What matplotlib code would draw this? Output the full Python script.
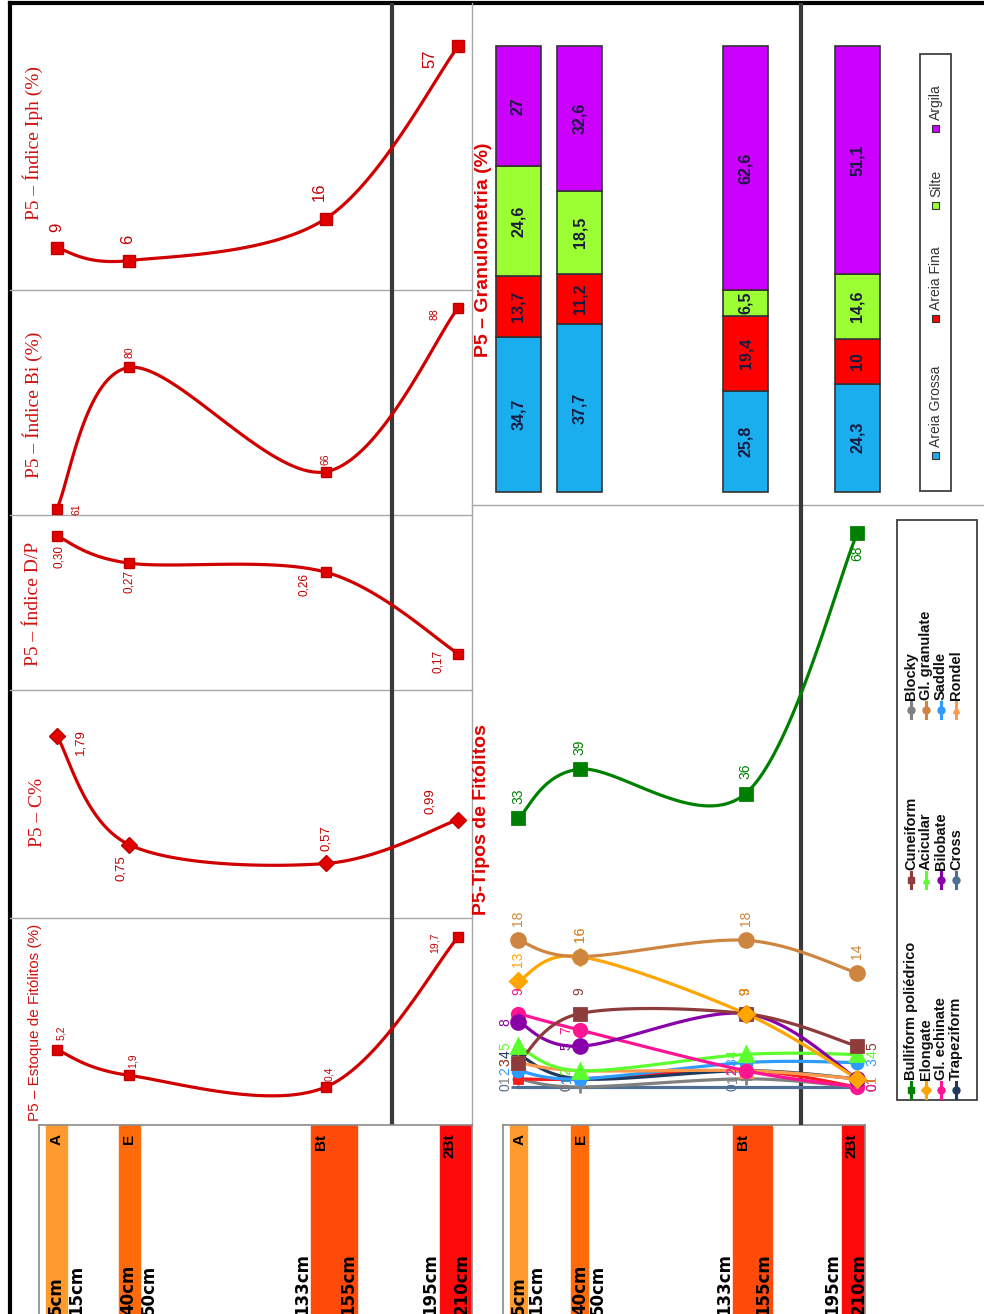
import numpy as np
import matplotlib
matplotlib.use('Agg')
import matplotlib.pyplot as plt
from matplotlib.patches import Rectangle

# ---------------- data ----------------
depths = [10, 45, 140, 204]              # sample depths (cm)
iph = [9, 6, 16, 57]
bi = [61, 80, 66, 88]
dp = [0.30, 0.27, 0.26, 0.17]
carbon = [1.79, 0.75, 0.57, 0.99]
estoque = [5.2, 1.9, 0.4, 19.7]

gran_classes = ['Areia Grossa', 'Areia Fina', 'Silte', 'Argila']
areia_grossa = [34.7, 37.7, 25.8, 24.3]
areia_fina = [13.7, 11.2, 19.4, 10]
silte = [24.6, 18.5, 6.5, 14.6]
argila = [27, 32.6, 62.6, 51.1]

horizons = ['A', 'E', 'Bt', '2Bt']
hz_top = [5, 40, 133, 195]
hz_bottom = [15, 50, 155, 210]
boundary_depth = 172

tipos_names = ['Bulliform poliédrico', 'Elongate', 'Gl. echinate', 'Trapeziform',
               'Cuneiform', 'Acicular', 'Bilobate', 'Cross',
               'Blocky', 'Gl. granulate', 'Saddle', 'Rondel']
bulliform = [33, 39, 36, 68]
elongate = [13, 16, 9, 1]
gl_echinate = [9, 7, 2, 0]
trapeziform = [4, 1, 2, 1]
cuneiform = [3, 9, 9, 5]
acicular = [5, 2, 4, 4]
bilobate = [8, 5, 9, 1]
cross = [0, 0, 0, 0]
blocky = [1, 0, 1, 0]
gl_granulate = [18, 16, 18, 14]
saddle = [2, 1, 3, 3]
rondel = [3, 2, 2, 1]
outros = [1, 1, 2, 0]   # unlabeled red series

# ---------------- layout helpers ----------------
W, H = 984, 1314
fig = plt.figure(figsize=(W / 100, H / 100), dpi=100)
fig.patch.set_facecolor('white')

SANS = ['Liberation Sans', 'DejaVu Sans']
SERIF = ['Liberation Serif', 'DejaVu Serif']


def px_axes(x0, y0, x1, y1, z=2):
    ax = fig.add_axes([x0 / W, 1 - y1 / H, (x1 - x0) / W, (y1 - y0) / H], zorder=z)
    ax.set_facecolor('none')
    ax.set_xticks([])
    ax.set_yticks([])
    for s in ax.spines.values():
        s.set_visible(False)
    return ax


# background overlay in pixel coordinates
bg = px_axes(0, 0, W, H, z=0)
bg.set_xlim(0, W)
bg.set_ylim(H, 0)

LA, LB = 36.0, 2.07       # left column depth -> px
RA, RB = 501.0, 1.747     # right column depth -> px


def xlim_for(x0, x1, a, b):
    return ((x0 - a) / b, (x1 - a) / b)


def ylim_for(y0, y1, v_ref, px_ref, ppu):
    return (v_ref - (y1 - px_ref) / ppu, v_ref + (px_ref - y0) / ppu)


def smooth(ax, xs, ys, n=40):
    P = ax.transData.transform(np.column_stack([xs, ys]))
    out = []
    for i in range(len(P) - 1):
        p0 = P[i - 1] if i > 0 else P[i]
        p1, p2 = P[i], P[i + 1]
        p3 = P[i + 2] if i + 2 < len(P) else P[i + 1]
        c1 = p1 + (p2 - p0) / 6.0
        c2 = p2 - (p3 - p1) / 6.0
        t = np.linspace(0, 1, n)[:, None]
        seg = (1 - t) ** 3 * p1 + 3 * (1 - t) ** 2 * t * c1 + 3 * (1 - t) * t ** 2 * c2 + t ** 3 * p2
        out.append(seg if i == 0 else seg[1:])
    pts = ax.transData.inverted().transform(np.vstack(out))
    return pts[:, 0], pts[:, 1]


def fmt(v, nd):
    if nd == 0:
        return str(int(round(v)))
    return f"{v:.{nd}f}".replace('.', ',')


# ---------------- frame & separators ----------------
bg.plot([10, W], [3, 3], color='black', lw=3)
bg.plot([10, 10], [3, H], color='black', lw=3)
for yy in [290, 515, 690, 918]:
    bg.plot([10, 472], [yy, yy], color='#A8A8A8', lw=1)
bg.plot([472, 472], [3, 1125], color='#A8A8A8', lw=1)
bg.plot([472, W], [505, 505], color='#A8A8A8', lw=1)

# ---------------- left column panels ----------------
RED = '#D00000'
panels = [
    dict(title='P5 – Índice Iph (%)', vals=iph, y=(3, 290), cal=(9, 248, 4.2), nd=0,
         marker='s', ms=9, fs=12, tfont=SERIF, tsize=14, tpos=(33, 143),
         offs=[(0, 21), (-2, 21), (-7, 27), (-28, -12)]),
    dict(title='P5 – Índice Bi (%)', vals=bi, y=(290, 515), cal=(61, 509, 7.45), nd=0,
         marker='s', ms=7, fs=7.5, tfont=SERIF, tsize=14, tpos=(33, 405),
         offs=[(20, 0), (0, 15), (0, 13), (-24, -6)]),
    dict(title='P5 – Índice D/P', vals=dp, y=(515, 690), cal=(0.30, 536, 905), nd=2,
         marker='s', ms=7.5, fs=8.5, tfont=SERIF, tsize=14, tpos=(33, 604),
         offs=[(2, -20), (0, -18), (-22, -12), (-20, -8)]),
    dict(title='P5 – C%', vals=carbon, y=(690, 918), cal=(1.79, 736, 104.5), nd=2,
         marker='D', ms=8.5, fs=9.5, tfont=SERIF, tsize=14, tpos=(37, 812),
         offs=[(24, -6), (-8, -23), (0, 25), (-28, 18)]),
    dict(title='P5 – Estoque de Fitólitos (%)', vals=estoque, y=(918, 1125), cal=(0.4, 1087, 7.77), nd=1,
         marker='s', ms=7, fs=7.5, tfont=SANS, tsize=11, tpos=(35, 1022),
         offs=[(4, 17), (4, 15), (3, 13), (-24, -6)]),
]

for p in panels:
    y0, y1 = p['y']
    ax = px_axes(10, y0, 472, y1)
    ax.set_xlim(*xlim_for(10, 472, LA, LB))
    ax.set_ylim(*ylim_for(y0, y1, *p['cal']))
    ax.axvline(boundary_depth, color='#3A3A3A', lw=3, zorder=1)
    sx, sy = smooth(ax, depths, p['vals'])
    ax.plot(sx, sy, color=RED, lw=2.3, zorder=3, solid_capstyle='round')
    ax.plot(depths, p['vals'], ls='none', marker=p['marker'], ms=p['ms'],
            color='#E00000', mec='#C00000', zorder=4)
    for d, v, (dx, dy) in zip(depths, p['vals'], p['offs']):
        ax.annotate(fmt(v, p['nd']), (d, v), xytext=(dx, dy), textcoords='offset pixels',
                    rotation=90, ha='center', va='center', color='#C00000',
                    fontsize=p['fs'], family=SANS, zorder=5)
    bg.text(p['tpos'][0], p['tpos'][1], p['title'], rotation=90, ha='center', va='center',
            color='#D01010', fontsize=p['tsize'], family=p['tfont'])

# ---------------- horizon strips ----------------
hz_colors = ['#FF9A2E', '#FF6A0A', '#FF4A0A', '#FF0A0A']


def horizon_strip(x0, x1, a, b):
    ax = px_axes(x0, 1125, x1, H + 2, z=2)
    ax.set_xlim(*xlim_for(x0, x1, a, b))
    ax.set_ylim(0, 1)
    for s in ['left', 'right', 'top']:
        ax.spines[s].set_visible(True)
        ax.spines[s].set_color('#8A8A8A')
        ax.spines[s].set_linewidth(1.2)
    for i, (name, t, bt) in enumerate(zip(horizons, hz_top, hz_bottom)):
        ax.axvspan(t, bt, color=hz_colors[i], zorder=1)
        ax.text(t + 1.5, 0.955, name, rotation=90, ha='left', va='top',
                fontsize=11, fontweight='bold', family=SANS, color='black', zorder=3)
        align = 'left' if i < 2 else 'right'
        ax.text(t, 0.005, f"{t}cm", rotation=90, ha=align, va='bottom',
                fontsize=12, fontweight='heavy', family=['DejaVu Sans'], color='black', zorder=3)
        ax.text(bt, 0.005, f"{bt}cm", rotation=90, ha=align, va='bottom',
                fontsize=12, fontweight='heavy', family=['DejaVu Sans'], color='black', zorder=3)
    return ax


horizon_strip(39, 472, LA, LB)
horizon_strip(503, 865, RA, RB)

# ---------------- granulometry ----------------
gax = px_axes(472, 3, W, 505)
gax.set_xlim(*xlim_for(472, W, RA, RB))
gax.set_ylim(*ylim_for(3, 505, 0, 492, 4.46))
gax.axvline(boundary_depth, color='#3A3A3A', lw=3, zorder=1)
gran_vals = np.array([areia_grossa, areia_fina, silte, argila], dtype=float)
gran_pct = gran_vals / gran_vals.sum(axis=0) * 100
gran_colors = ['#1AAEEE', '#FF0000', '#9CFF33', '#CC00FF']
bottom = np.zeros(len(depths))
for k in range(len(gran_classes)):
    gax.bar(depths, gran_pct[k], bottom=bottom, width=26, color=gran_colors[k],
            edgecolor='#333333', lw=1.2, zorder=3)
    for d, b0, h, raw in zip(depths, bottom, gran_pct[k], gran_vals[k]):
        txt = str(int(raw)) if float(raw).is_integer() else fmt(raw, 1)
        gax.text(d, b0 + h / 2, txt, rotation=90, ha='center', va='center',
                 fontsize=11.5, fontweight='bold', family=SANS, color='#1A1A40', zorder=4)
    bottom = bottom + gran_pct[k]
bg.text(484, 250, 'P5 – Granulometria (%)', rotation=90, ha='center', va='center',
        color='#E00000', fontsize=14, fontweight='bold', family=SANS, zorder=5)

# ---------------- tipos de fitólitos ----------------
tax = px_axes(472, 505, W, 1125)
tax.set_xlim(*xlim_for(472, W, RA, RB))
tax.set_ylim(*ylim_for(505, 1125, 0, 1087, 8.15))
tax.axvline(boundary_depth, color='#3A3A3A', lw=3, zorder=1)

tipos_values = [bulliform, elongate, gl_echinate, trapeziform, cuneiform, acicular,
                bilobate, cross, blocky, gl_granulate, saddle, rondel]
tipos_style = [('#008000', 's', 9), ('#FFA500', 'D', 8), ('#FF1493', 'o', 9),
               ('#1F3A5F', '_', 10), ('#8E3B3B', 's', 9), ('#5CFF2E', '^', 10),
               ('#8A00A8', 'o', 10), ('#4F6E93', '_', 10), ('#808080', '+', 9),
               ('#CD853F', 'o', 10), ('#2E9BFF', 'o', 8), ('#FF9A4D', '^', 9)]

series = list(zip(tipos_names, tipos_values, tipos_style))
series.append(('_outros', outros, ('#FF1A1A', 's', 6)))
draw_order = [7, 8, 12, 3, 10, 11, 5, 2, 6, 4, 1, 9, 0]
for idx in draw_order:
    name, vals, (col, mk, ms) = series[idx]
    sx, sy = smooth(tax, depths, vals)
    tax.plot(sx, sy, color=col, lw=2.3, zorder=3)
    tax.plot(depths, vals, ls='none', marker=mk, ms=ms, color=col, mec=col, mew=2, zorder=4)
    if name.startswith('_'):
        continue
    for j, (d, v) in enumerate(zip(depths, vals)):
        if v >= 9:
            off = (0, -20) if (idx == 0 and j == 3) else (0, 22)
        elif j == 3:
            off = (15, 0)
        else:
            off = (-13, 0)
        tax.annotate(str(v), (d, v), xytext=off, textcoords='offset pixels', rotation=90,
                     ha='center', va='center', fontsize=10, family=SANS, color=col, zorder=5)

bg.text(482, 820, 'P5-Tipos de Fitólitos', rotation=90, ha='center', va='center',
        color='#E00000', fontsize=14, fontweight='bold', family=SANS, zorder=5)

# ---------------- legends (rotated, drawn manually) ----------------
fg = px_axes(0, 0, W, H, z=10)
fg.set_xlim(0, W)
fg.set_ylim(H, 0)

fg.add_patch(Rectangle((897, 520), 80, 580, facecolor='white', edgecolor='#404040', lw=1.3))
col_y = [1090, 880, 710]
row_x = [911, 926, 941, 956]
for i, (name, vals, (col, mk, ms)) in enumerate(series[:12]):
    c, r = divmod(i, 4)
    x, y = row_x[r], col_y[c]
    fg.plot([x, x], [y - 8, y + 8], color=col, lw=2.2)
    fg.plot([x], [y], marker=mk if mk not in ('_', '+') else 'o', ms=5, color=col)
    fg.text(x, y - 10, name, rotation=90, ha='center', va='bottom', fontsize=10.5,
            fontweight='bold', family=SANS, color='#111111')

fg.add_patch(Rectangle((920, 54), 31, 437, facecolor='white', edgecolor='#404040', lw=1.3))
leg_y = [455, 318, 205, 128]
for name, col, y in zip(gran_classes, gran_colors, leg_y):
    fg.add_patch(Rectangle((932, y - 3.5), 7, 7, facecolor=col, edgecolor='#333333', lw=0.8))
    fg.text(936, y - 8, name, rotation=90, ha='center', va='bottom', fontsize=10,
            family=SANS, color='#333333')

fig.savefig('out.png', dpi=100, facecolor='white')
